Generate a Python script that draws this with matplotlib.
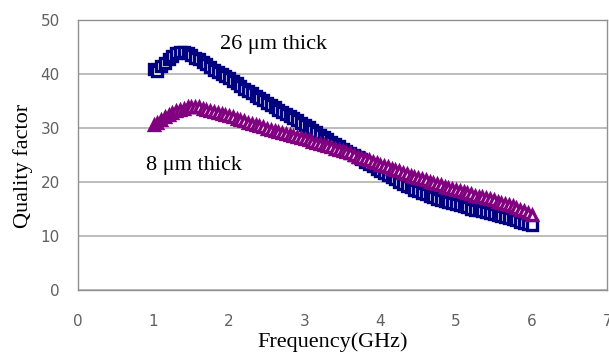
import numpy as np
import matplotlib.pyplot as plt

# Frequency (GHz), sampled every 0.05 GHz
freq = [round(1.0 + 0.05 * i, 2) for i in range(101)]

q_26um = [41.0, 40.5, 41.5, 42.0, 42.8, 43.3, 43.8, 44.0, 44.0, 43.8,
          43.5, 43.0, 42.8, 42.2, 41.8, 41.3, 40.8, 40.4, 40.0, 39.6,
          39.2, 38.7, 38.3, 37.8, 37.3, 36.9, 36.4, 36.0, 35.5, 35.1,
          34.7, 34.2, 33.8, 33.4, 33.0, 32.6, 32.2, 31.8, 31.4, 31.0,
          30.6, 30.2, 29.7, 29.2, 28.8, 28.3, 27.9, 27.5, 27.0, 26.6,
          26.2, 25.8, 25.4, 25.0, 24.6, 24.2, 23.8, 23.4, 23.0, 22.5,
          22.1, 21.7, 21.3, 20.9, 20.5, 20.1, 19.7, 19.3, 19.0, 18.6,
          18.3, 18.0, 17.7, 17.4, 17.2, 16.9, 16.7, 16.5, 16.3, 16.1,
          15.9, 15.7, 15.5, 15.3, 15.1, 14.9, 14.8, 14.6, 14.4, 14.2,
          14.1, 13.9, 13.7, 13.5, 13.3, 13.1, 12.9, 12.7, 12.5, 12.3,
          12.0]

q_8um = [30.5, 31.0, 31.5, 32.0, 32.4, 32.8, 33.1, 33.4, 33.6, 33.8,
         33.9, 33.9, 33.8, 33.6, 33.4, 33.2, 33.0, 32.8, 32.6, 32.4,
         32.2, 32.0, 31.7, 31.5, 31.3, 31.0, 30.8, 30.6, 30.3, 30.1,
         29.9, 29.7, 29.5, 29.3, 29.1, 28.9, 28.7, 28.5, 28.3, 28.1,
         27.9, 27.7, 27.5, 27.3, 27.1, 26.8, 26.6, 26.4, 26.2, 26.0,
         25.8, 25.5, 25.3, 25.0, 24.7, 24.5, 24.2, 24.0, 23.7, 23.5,
         23.2, 23.0, 22.7, 22.5, 22.2, 22.0, 21.7, 21.5, 21.2, 21.0,
         20.8, 20.5, 20.3, 20.0, 19.8, 19.6, 19.4, 19.1, 18.9, 18.7,
         18.5, 18.3, 18.1, 17.9, 17.7, 17.5, 17.3, 17.2, 17.0, 16.8,
         16.6, 16.4, 16.2, 16.0, 15.7, 15.5, 15.2, 14.9, 14.6, 14.3,
         13.9]

x_ticks = [0, 1, 2, 3, 4, 5, 6, 7]
y_ticks = [0, 10, 20, 30, 40, 50]

fig = plt.figure(figsize=(6.09, 3.56), dpi=100)
ax = fig.add_axes([0.128, 0.185, 0.869, 0.759])

ax.plot(freq, q_26um, linestyle='none', marker='s', markersize=7,
        markerfacecolor='white', markeredgecolor='#000080', markeredgewidth=2.4, zorder=3)
ax.plot(freq, q_8um, linestyle='none', marker='^', markersize=7.5,
        markerfacecolor='white', markeredgecolor='#800080', markeredgewidth=2.4, zorder=4)

ax.set_xlim(0, 7)
ax.set_ylim(0, 50)
ax.set_xticks(x_ticks)
ax.set_yticks(y_ticks)
ax.yaxis.grid(True, color='#b0b0b0', linewidth=1.2)
ax.set_axisbelow(True)
for s in ax.spines.values():
    s.set_color('#909090')
    s.set_linewidth(1.0)
ax.tick_params(length=0, labelsize=11, labelcolor='#606060')
ax.tick_params(axis='x', pad=17)
ax.tick_params(axis='y', pad=13)
for lbl in ax.get_xticklabels() + ax.get_yticklabels():
    lbl.set_family(['Liberation Sans Narrow', 'DejaVu Sans'])

serif = 'Liberation Serif'
ax.set_xlabel('Frequency(GHz)', family=serif, fontsize=16)
ax.xaxis.set_label_coords(0.482, -0.155)
ax.set_ylabel('Quality factor', family=serif, fontsize=16)
ax.yaxis.set_label_coords(-0.085, 0.46)
ax.text(1.88, 45.5, '26 μm thick', family=serif, fontsize=16, va='center', ha='left')
ax.text(0.9, 23.1, '8 μm thick', family=serif, fontsize=16, va='center', ha='left')

fig.savefig('out.png', dpi=100)
